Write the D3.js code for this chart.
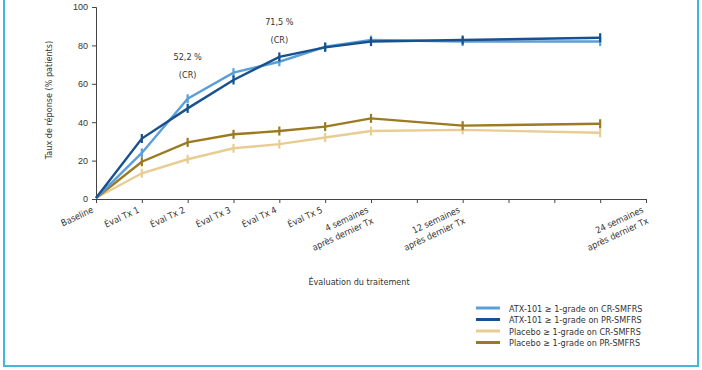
<!DOCTYPE html>
<html>
<head>
<meta charset="utf-8">
<script src="https://cdn.jsdelivr.net/npm/d3@7"></script>
<style>
  body { margin: 0; background: #fff; }
  svg { display: block; font-family: "DejaVu Sans Condensed", "Liberation Sans", sans-serif; }
</style>
</head>
<body>
<div id="chart"></div>
<script>
// x positions in steps of ~4 weeks
var pointIdx = [0, 1, 2, 3, 4, 5, 6, 8, 11];
var tickLabels = ["Baseline", "Éval Tx 1", "Éval Tx 2", "Éval Tx 3", "Éval Tx 4", "Éval Tx 5",
  "4 semaines|après dernier Tx", "12 semaines|après dernier Tx", "24 semaines|après dernier Tx"];
var tickLabelIdx = [0, 1, 2, 3, 4, 5, 6, 8, 12];
var yTicks = [0, 20, 40, 60, 80, 100];

var seriesNames = ["ATX-101 ≥ 1-grade on CR-SMFRS", "ATX-101 ≥ 1-grade on PR-SMFRS",
  "Placebo ≥ 1-grade on CR-SMFRS", "Placebo ≥ 1-grade on PR-SMFRS"];
var atxCR = [0.5, 24, 52.2, 65.8, 71.5, 79.3, 82.8, 82, 82];
var atxPR = [0.5, 31.5, 47.2, 62, 74, 79, 82, 82.8, 84];
var placeboCR = [0.5, 13.4, 20.7, 26.4, 28.6, 32, 35.4, 36, 34.5];
var placeboPR = [0.5, 19.4, 29.5, 33.7, 35.4, 37.7, 42, 38.2, 39.2];
var colors = ["#5b9fd8", "#17518f", "#e8cd92", "#9b7a22"];

var notes = [
  {idx: 2, lines: ["52,2 %", "(CR)"], y: 60},
  {idx: 4, lines: ["71,5 %", "(CR)"], y: 25}
];

var W = 702, H = 370;
var margin = {top: 7, left: 96};
var plotW = 550, plotH = 192;

var svg = d3.select("#chart").append("svg").attr("width", W).attr("height", H);

// frame
svg.append("rect")
  .attr("x", 4).attr("y", -10).attr("width", 694).attr("height", 376)
  .attr("fill", "none").attr("stroke", "#45b6d8").attr("stroke-width", 2);

var g = svg.append("g").attr("transform", "translate(" + margin.left + "," + margin.top + ")");

var x = d3.scaleLinear().domain([0, 12]).range([0, plotW]);
var y = d3.scaleLinear().domain([0, 100]).range([plotH, 0]);

var yAxis = g.append("g")
  .call(d3.axisLeft(y).tickValues(yTicks).tickSize(4).tickPadding(4));
yAxis.selectAll("text").attr("font-size", 9).attr("fill", "#333");

var xAxis = g.append("g").attr("transform", "translate(0," + plotH + ")")
  .call(d3.axisBottom(x).tickValues(d3.range(0, 13)).tickSize(4).tickFormat(""));

g.selectAll(".domain, .tick line").attr("stroke", "#444");

// rotated x labels
tickLabels.forEach(function(lab, i){
  var t = g.append("text")
    .attr("transform", "translate(" + (x(tickLabelIdx[i]) - 2) + "," + (plotH + 13) + ") rotate(-25)")
    .attr("text-anchor", "end")
    .attr("font-size", 9).attr("fill", "#333");
  lab.split("|").forEach(function(part, j){
    t.append("tspan").attr("x", 0).attr("dy", j == 0 ? 0 : 12).text(part);
  });
});

// axis titles
svg.append("text")
  .attr("x", 359).attr("y", 285).attr("text-anchor", "middle")
  .attr("font-size", 9).attr("fill", "#333").text("Évaluation du traitement");
svg.append("text")
  .attr("transform", "translate(52,100) rotate(-90)").attr("text-anchor", "middle")
  .attr("font-size", 9).attr("fill", "#333").text("Taux de réponse (% patients)");

// series
var allSeries = [atxCR, atxPR, placeboCR, placeboPR];
var line = d3.line().x(function(d, i){ return x(pointIdx[i]); }).y(function(d){ return y(d); });

[2, 3, 0, 1].forEach(function(s){
  var vals = allSeries[s];
  g.append("path").datum(vals)
    .attr("d", line).attr("fill", "none")
    .attr("stroke", colors[s]).attr("stroke-width", 2.4);
  g.selectAll(".err" + s).data(vals.slice(1)).enter()
    .append("line")
    .attr("x1", function(d, i){ return x(pointIdx[i + 1]); })
    .attr("x2", function(d, i){ return x(pointIdx[i + 1]); })
    .attr("y1", function(d){ return y(d) - 4.5; })
    .attr("y2", function(d){ return y(d) + 4.5; })
    .attr("stroke", colors[s]).attr("stroke-width", 2.2);
});

// annotations
notes.forEach(function(n){
  n.lines.forEach(function(txt, j){
    svg.append("text")
      .attr("x", margin.left + x(n.idx)).attr("y", n.y + j * 18)
      .attr("text-anchor", "middle").attr("font-size", 9).attr("fill", "#333")
      .text(txt);
  });
});

// legend
var leg = svg.append("g").attr("transform", "translate(476,308)");
seriesNames.forEach(function(name, i){
  var row = leg.append("g").attr("transform", "translate(0," + (i * 11.5) + ")");
  row.append("line").attr("x1", 0).attr("x2", 24).attr("y1", 0).attr("y2", 0)
    .attr("stroke", colors[i]).attr("stroke-width", 3);
  row.append("text").attr("x", 33).attr("y", 3.5)
    .attr("font-size", 9).attr("fill", "#333").text(name);
});
</script>
</body>
</html>
